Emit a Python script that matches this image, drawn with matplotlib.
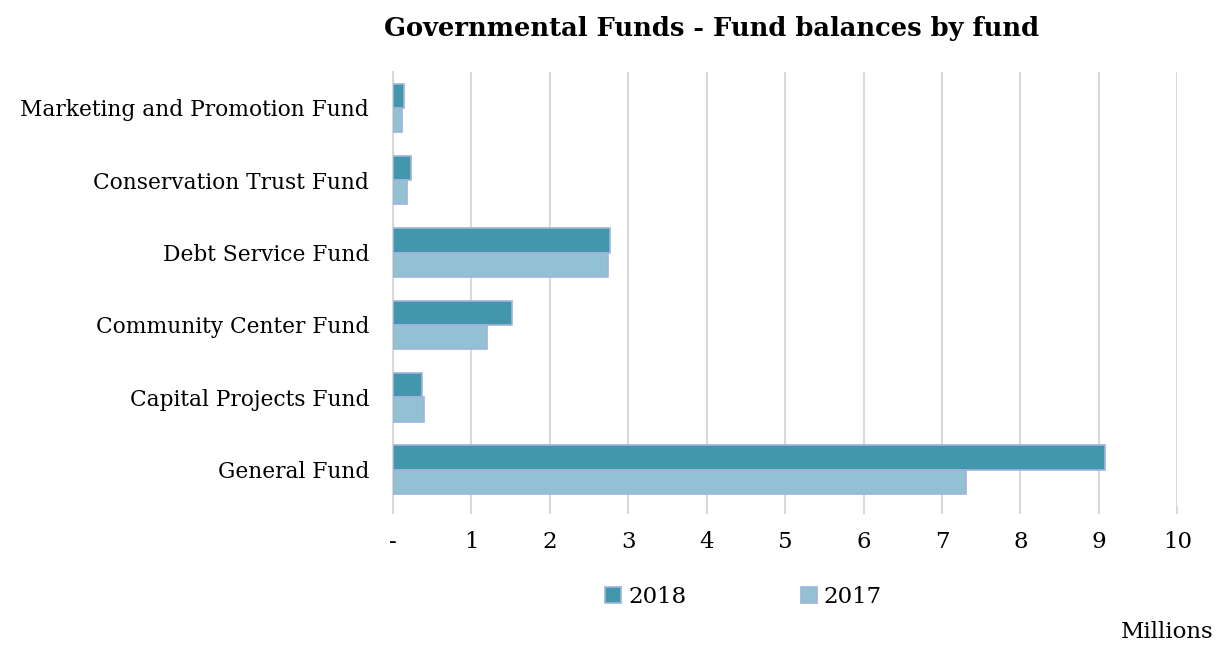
import matplotlib.pyplot as plt
import numpy as np

categories = ['General Fund', 'Capital Projects Fund', 'Community Center Fund',
              'Debt Service Fund', 'Conservation Trust Fund', 'Marketing and Promotion Fund']
values_2018 = [9.08, 0.37, 1.52, 2.77, 0.23, 0.14]
values_2017 = [7.31, 0.40, 1.20, 2.74, 0.18, 0.12]
tick_labels = ['-', '1', '2', '3', '4', '5', '6', '7', '8', '9', '10']

plt.rcParams['font.family'] = ['DejaVu Serif']

fig = plt.figure(figsize=(12.2, 6.46), dpi=100)
ax = fig.add_axes([0.322, 0.217, 0.643, 0.672])

y = np.arange(len(categories))
h = 0.335
edge = '#9fb3da'
ax.barh(y + h / 2, values_2018, height=h, color='#4397ad', edgecolor=edge, linewidth=1.2, label='2018', zorder=3)
ax.barh(y - h / 2, values_2017, height=h, color='#92c1d3', edgecolor=edge, linewidth=1.2, label='2017', zorder=3)

ax.set_xlim(0, 10)
ax.set_ylim(-0.5, len(categories) - 0.5)
ax.set_xticks(range(11))
ax.set_xticklabels(tick_labels, fontsize=16.5)
ax.set_yticks(y)
ax.set_yticklabels(categories, fontsize=15.7)
ax.grid(axis='x', color='#d9d9d9', linewidth=1.5, zorder=0)
for s in ['top', 'right', 'bottom']:
    ax.spines[s].set_visible(False)
ax.spines['left'].set_color('#d9d9d9')
ax.spines['left'].set_linewidth(1.5)
ax.tick_params(axis='y', length=0, pad=17)
ax.tick_params(axis='x', length=6, color='#d9d9d9', width=1.5, pad=12)

fig.suptitle('Governmental Funds - Fund balances by fund', x=0.583, y=0.975,
             fontsize=18.5, fontweight='bold')
ax.legend(loc='upper center', bbox_to_anchor=(0.447, -0.137), ncol=2, frameon=False,
          fontsize=16.5, handlelength=0.7, handleheight=0.7, handletextpad=0.3, columnspacing=5)
fig.text(0.995, 0.005, 'Millions', ha='right', va='bottom', fontsize=16.5)

fig.savefig('out.png', dpi=100, facecolor='white')
